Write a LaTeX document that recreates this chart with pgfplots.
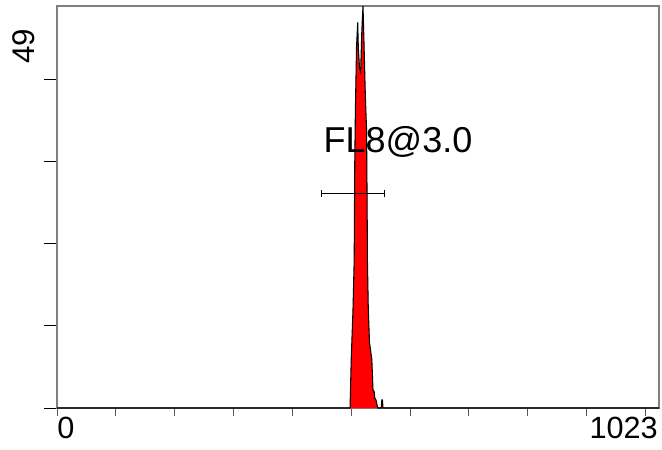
\documentclass[border=0pt]{standalone}
\usepackage{fontspec}
\setmainfont{Liberation Sans}
\usepackage{pgfplots}
\pgfplotsset{compat=1.18}
\begin{document}
\begin{tikzpicture}
\begin{axis}[
    scale only axis,
    width=451.5pt,
    height=301.5pt,
    xmin=0, xmax=1023,
    ymin=0, ymax=49,
    xtick={0,100,...,1000},
    xticklabels={},
    ytick={0,10,20,30,40},
    yticklabels={},
    tick align=outside,
    xtick pos=bottom,
    ytick pos=left,
    xtick style={gray!70!black, line width=0.75pt, /pgfplots/major tick length=6pt},
    ytick style={black, line width=0.75pt, /pgfplots/major tick length=9.75pt},
    axis line style={gray, line width=0.9pt},
    clip=false,
]
% histogram FL8
\addplot[draw=black, fill=red, line width=0.8pt] coordinates {
    (0,0) (498,0) (500,6) (503,12) (505,18) (506,30) (507,36) (509,44) (511,47)
    (512,44) (514,41.5) (516,41) (518,46) (520,49) (521.5,45) (524,38) (526,34)
    (527,25) (527.5,18) (529,12) (531,8) (535,5.9) (536,4) (537,2.2) (539,2)
    (540,1.2) (542,1) (545,0) (551,0) (552,1) (553,1) (554,0) (1023,0)
};
% gate marker
\addplot[black, mark=none, forget plot,
    error bars/.cd, x dir=both, x explicit,
    error bar style={line width=0.75pt},
    error mark=|,
    error mark options={mark size=2.6pt, black, line width=0.75pt}]
    coordinates {(503,26.2) +- (53,0)};
\node[anchor=base, inner sep=0, font=\fontsize{27}{30}\selectfont] at (axis cs:579.5,31.2) {FL8@3.0};
\end{axis}
\node[rotate=90, inner sep=0, font=\fontsize{23.5}{28}\selectfont] at ([xshift=-24.75pt, yshift=-30pt]current axis.north west) {49};
\node[anchor=north west, inner sep=0, font=\fontsize{23}{28}\selectfont] at ([yshift=-6.75pt]current axis.south west) {0};
\node[anchor=north east, inner sep=0, font=\fontsize{23}{28}\selectfont] at ([xshift=-0.75pt, yshift=-6.75pt]current axis.south east) {1023};
\path ([shift={(-42.75pt,-30.75pt)}]current axis.south west) rectangle ([shift={(2.25pt,4.5pt)}]current axis.north east);
\end{tikzpicture}
\end{document}
